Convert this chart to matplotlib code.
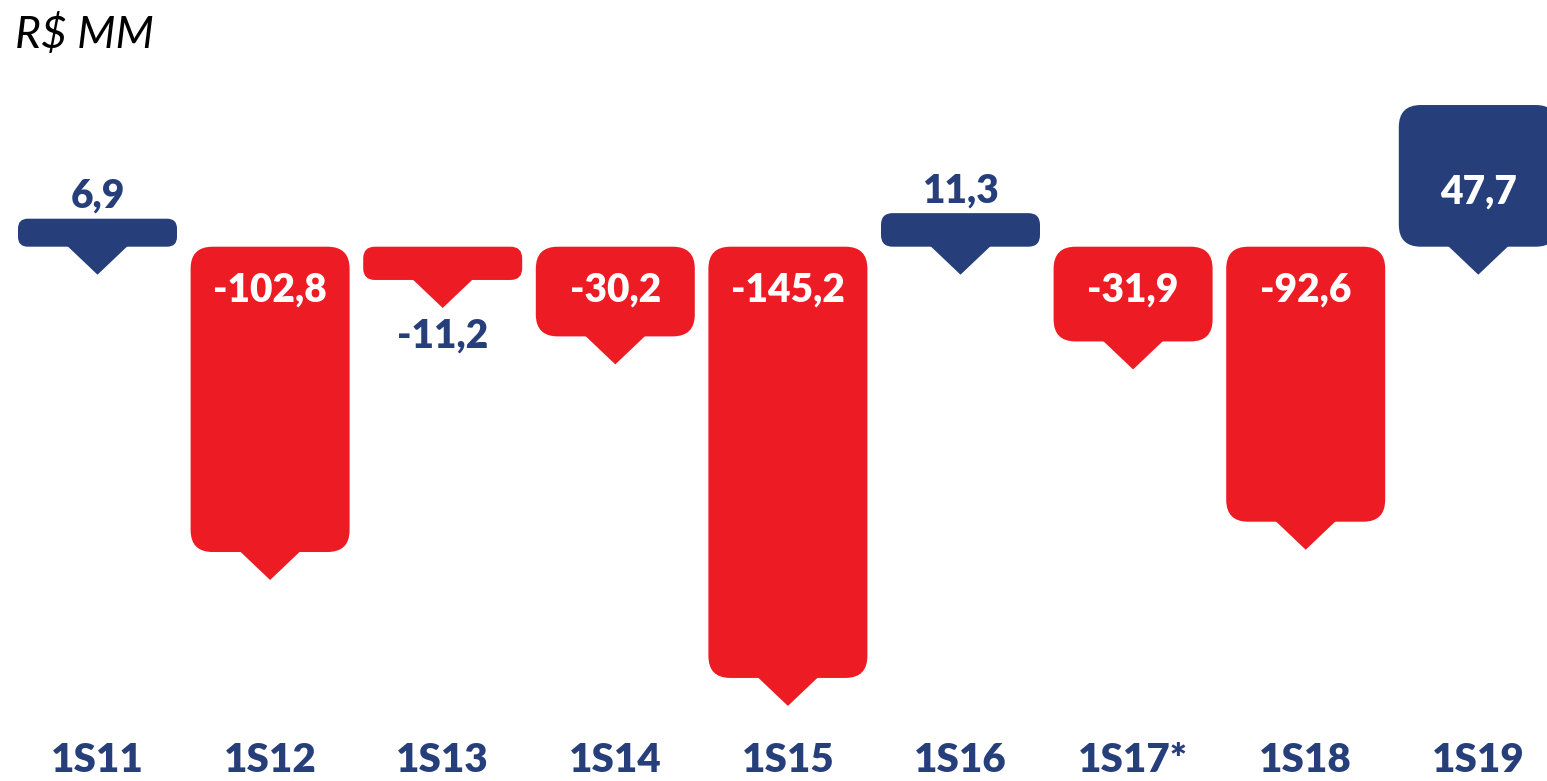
import matplotlib
matplotlib.use("Agg")
import matplotlib.pyplot as plt
from matplotlib.patches import FancyBboxPatch, Polygon

# dados (R$ MM)
periodos = ["1S11", "1S12", "1S13", "1S14", "1S15", "1S16", "1S17*", "1S18", "1S19"]
valores = [6.9, -102.8, -11.2, -30.2, -145.2, 11.3, -31.9, -92.6, 47.7]
rotulos = ["6,9", "-102,8", "-11,2", "-30,2", "-145,2", "11,3", "-31,9", "-92,6", "47,7"]

AZUL = "#263F7A"
VERMELHO = "#ED1C24"
FONTE = ["Lato", "DejaVu Sans"]

W, H = 1547, 781
fig = plt.figure(figsize=(W / 100, H / 100), dpi=100)
ax = fig.add_axes([0, 0, 1, 1])

# escala: pixels por categoria / por unidade de valor
px_x = 172.6
px_y = 2.97
x0_px = 97.5
base_px = 246.7
ax.set_xlim(-x0_px / px_x, (W - x0_px) / px_x)
ax.set_ylim(-(H - base_px) / px_y, base_px / px_y)
ax.axis("off")


def dx(p):
    return p / px_x


def dy(p):
    return p / px_y


larg = dx(159)
for i, (v, lab) in enumerate(zip(valores, rotulos)):
    cor = AZUL if v > 0 else VERMELHO
    h = max(abs(v), dy(28))
    topo = h if v > 0 else 0
    fundo = 0 if v > 0 else -h
    raio = min(22, h * px_y * 0.35)
    caixa = FancyBboxPatch((i - larg / 2, fundo), larg, h,
                           boxstyle="round,pad=0,rounding_size=%f" % dx(raio),
                           mutation_aspect=px_x / px_y,
                           fc=cor, ec="none", lw=0)
    ax.add_patch(caixa)
    ponta = fundo - dy(28)
    tri = Polygon([(i - dx(30.5), fundo + dy(1)), (i + dx(30.5), fundo + dy(1)), (i, ponta)],
                  closed=True, fc=cor, ec="none", lw=0)
    ax.add_patch(tri)

    # rotulo de valor
    if h * px_y > 60:
        if v > 0:
            y = (topo + ponta) / 2 - dy(14)
        else:
            y = -dy(55)
        ax.text(i, y, lab, color="white", ha="center", va="baseline",
                fontsize=28, fontweight="heavy", family=FONTE)
    else:
        if v > 0:
            y = topo + dy(11)
        else:
            y = ponta - dy(40)
        ax.text(i, y, lab, color=AZUL, ha="center", va="baseline",
                fontsize=28, fontweight="heavy", family=FONTE)

# eixo de categorias
y_cat = -(H - base_px) / px_y + dy(9)
for i, p in enumerate(periodos):
    ax.text(i, y_cat, p, color=AZUL, ha="center", va="baseline",
            fontsize=29, fontweight="heavy", family=FONTE)

fig.text(15 / W, 1 - 48 / H, "R\\$ MM", color="black", ha="left", va="baseline",
         fontsize=32, style="italic", family=FONTE)

fig.savefig("out.png", dpi=100)
